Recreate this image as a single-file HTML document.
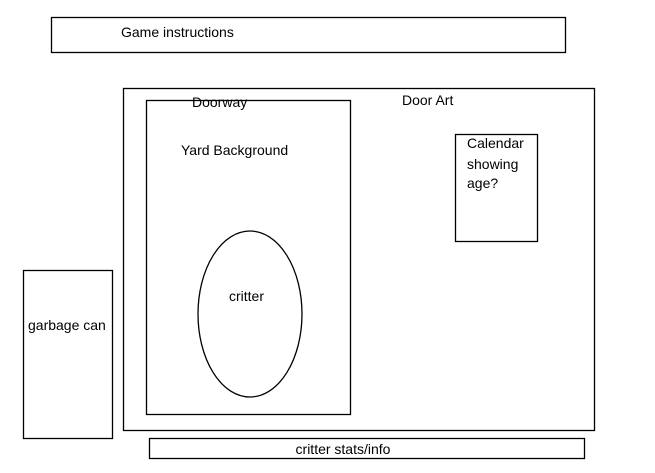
<!DOCTYPE html>
<html><head><style>
body{margin:0;background:#fff;}
svg text{font-family:"Liberation Sans",sans-serif;font-size:14px;fill:#000;}
</style></head><body>
<svg width="655" height="468" viewBox="0 0 655 468" xmlns="http://www.w3.org/2000/svg">
<g fill="none" stroke="#000" stroke-width="1.3">
<rect x="51.5" y="17.5" width="514" height="35"/>
<rect x="123.5" y="88.5" width="471" height="342"/>
<rect x="146.5" y="100.5" width="204" height="314"/>
<rect x="455.5" y="134.5" width="82" height="107"/>
<ellipse cx="250" cy="314" rx="52" ry="83"/>
<rect x="23.5" y="270.5" width="89" height="168"/>
<rect x="149.5" y="438.5" width="435" height="20"/>
</g>
<text x="121" y="37">Game instructions</text>
<text x="192" y="107">Doorway</text>
<text x="402" y="105">Door Art</text>
<text x="181" y="155">Yard Background</text>
<text x="467" y="148">Calendar</text>
<text x="467" y="169">showing</text>
<text x="467" y="188">age?</text>
<text x="229" y="301">critter</text>
<text x="28" y="330">garbage can</text>
<text x="343" y="454" text-anchor="middle">critter stats/info</text>
</svg>
</body></html>
